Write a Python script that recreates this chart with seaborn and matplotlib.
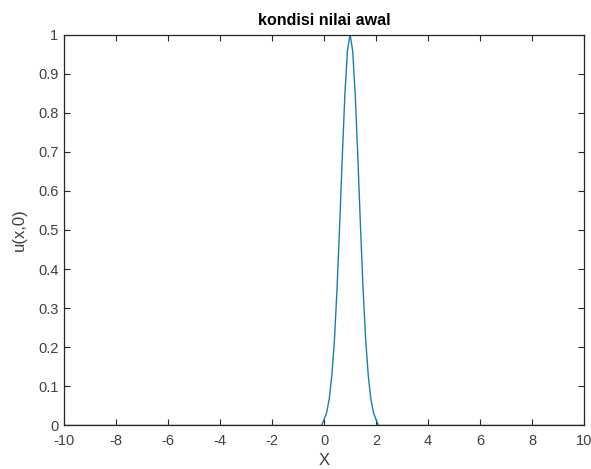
import matplotlib
matplotlib.use("Agg")
import matplotlib.pyplot as plt
import seaborn as sns
import pandas as pd

# Initial condition u(x,0): flat zero line with a single bump near x = 1
peak_x = [-0.1, 0.0, 0.1, 0.2, 0.3, 0.4, 0.5, 0.6, 0.7, 0.8, 0.9, 1.0,
          1.1, 1.2, 1.3, 1.4, 1.5, 1.6, 1.7, 1.8, 1.9, 2.0, 2.1]
peak_u = [0.0, 0.015, 0.033, 0.068, 0.128, 0.220, 0.350, 0.511, 0.685, 0.845, 0.959, 1.0,
          0.959, 0.845, 0.685, 0.511, 0.350, 0.220, 0.128, 0.068, 0.033, 0.015, 0.0]
domain = [-10.0, 10.0]

x_ticks = [-10, -8, -6, -4, -2, 0, 2, 4, 6, 8, 10]
y_ticks = [0, 0.1, 0.2, 0.3, 0.4, 0.5, 0.6, 0.7, 0.8, 0.9, 1.0]
y_tick_labels = ["0", "0.1", "0.2", "0.3", "0.4", "0.5", "0.6", "0.7", "0.8", "0.9", "1"]

df = pd.DataFrame({
    "x": [domain[0]] + peak_x + [domain[1]],
    "u": [0.0] + peak_u + [0.0],
})

sns.set_style("ticks")
plt.rcParams["font.family"] = ["Liberation Sans", "DejaVu Sans"]

fig = plt.figure(figsize=(5.91, 4.69), dpi=100)
ax = fig.add_axes([0.1083, 0.0928, 0.8800, 0.8336])

sns.lineplot(data=df, x="x", y="u", ax=ax, color="#1380b5", linewidth=1.0,
             sort=False, estimator=None)

ax.set_xlim(domain)
ax.set_ylim(0, 1)
ax.set_xticks(x_ticks)
ax.set_xticklabels([str(t) for t in x_ticks])
ax.set_yticks(y_ticks)
ax.set_yticklabels(y_tick_labels)

edge = "#262626"
for side in ["left", "right", "top", "bottom"]:
    ax.spines[side].set_visible(True)
    ax.spines[side].set_color(edge)
    ax.spines[side].set_linewidth(0.9)

ax.tick_params(axis="both", which="major", direction="in", length=4, width=0.8,
               top=True, right=True, color=edge, labelcolor="#404040",
               labelsize=10.5)
ax.tick_params(axis="x", pad=6)
ax.tick_params(axis="y", pad=4)

ax.set_title("kondisi nilai awal", fontsize=11.5, fontweight="bold", color="black", pad=7)
ax.set_xlabel("X", fontsize=12, color="#404040", labelpad=4)
ax.set_ylabel("u(x,0)", fontsize=12, color="#404040", labelpad=8)

fig.savefig("out.png", dpi=100)
